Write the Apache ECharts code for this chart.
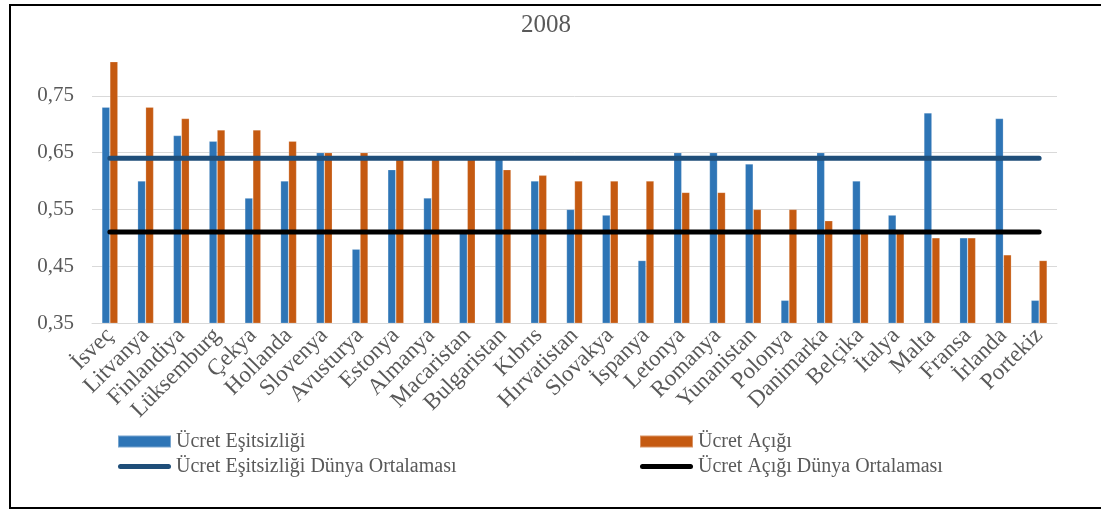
<!DOCTYPE html>
<html>
<head>
<meta charset="utf-8">
<script src="https://cdn.jsdelivr.net/npm/echarts@6/dist/echarts.min.js"></script>
<style>
html,body{margin:0;padding:0;background:#fff;}
#chart{width:1101px;height:510px;}
</style>
</head>
<body>
<div id="chart"></div>
<script>
const titleText = '2008';
const categories = ['İsveç','Litvanya','Finlandiya','Lüksemburg','Çekya','Hollanda','Slovenya','Avusturya','Estonya','Almanya','Macaristan','Bulgaristan','Kıbrıs','Hırvatistan','Slovakya','İspanya','Letonya','Romanya','Yunanistan','Polonya','Danimarka','Belçika','İtalya','Malta','Fransa','İrlanda','Portekiz'];
const seriesNames = ['Ücret Eşitsizliği','Ücret Açığı','Ücret Eşitsizliği Dünya Ortalaması','Ücret Açığı Dünya Ortalaması'];
const payInequality = [0.73,0.60,0.68,0.67,0.57,0.60,0.65,0.48,0.62,0.57,0.51,0.64,0.60,0.55,0.54,0.46,0.65,0.65,0.63,0.39,0.65,0.60,0.54,0.72,0.50,0.71,0.39];
const payGap = [0.81,0.73,0.71,0.69,0.69,0.67,0.65,0.65,0.64,0.64,0.64,0.62,0.61,0.60,0.60,0.60,0.58,0.58,0.55,0.55,0.53,0.51,0.51,0.50,0.50,0.47,0.46];
const worldAvgInequality = 0.64;
const worldAvgGap = 0.51;
const yTicks = {min:0.35, max:0.85, interval:0.1};

const font = "'Liberation Serif','Times New Roman',serif";
const lineIcon = 'path://M2.5,0H50.5A2.5,2.5,0,0,1,50.5,5H2.5A2.5,2.5,0,0,1,2.5,0Z';

const chart = echarts.init(document.getElementById('chart'));
chart.setOption({
  animation:false,
  backgroundColor:'#ffffff',
  title:{text:titleText,left:521,top:13,padding:0,textStyle:{fontFamily:font,fontSize:25,fontWeight:'normal',color:'#595959'}},
  grid:{left:92,right:44,top:39,bottom:187,containLabel:false},
  legend:[
    {left:117,top:431,padding:0,orient:'vertical',itemWidth:53,itemHeight:12,itemGap:4,
     textStyle:{fontFamily:font,fontSize:20,lineHeight:21,color:'#595959'},
     data:[{name:seriesNames[0],icon:'rect'},{name:seriesNames[2],icon:lineIcon}]},
    {left:639,top:431,padding:0,orient:'vertical',itemWidth:53,itemHeight:12,itemGap:4,
     textStyle:{fontFamily:font,fontSize:20,lineHeight:21,color:'#595959'},
     data:[{name:seriesNames[1],icon:'rect'},{name:seriesNames[3],icon:lineIcon}]}
  ],
  xAxis:{type:'category',data:categories,
    axisLine:{lineStyle:{color:'#d9d9d9',width:1}},axisTick:{show:false},
    axisLabel:{interval:0,rotate:45,margin:9,fontFamily:font,fontSize:23,color:'#595959'}},
  yAxis:{type:'value',min:yTicks.min,max:yTicks.max,interval:yTicks.interval,
    axisLine:{show:false},axisTick:{show:false},
    axisLabel:{showMaxLabel:false,margin:18,fontFamily:font,fontSize:21,color:'#595959',
      formatter:v=>v.toFixed(2).replace('.',',')},
    splitLine:{showMaxLine:false,lineStyle:{color:'#d9d9d9',width:1}}},
  series:[
    {name:seriesNames[0],type:'bar',data:payInequality,barWidth:8,barGap:'0%',
     itemStyle:{color:'#2e75b6',borderColor:'rgba(255,255,255,0.35)',borderWidth:0.6}},
    {name:seriesNames[1],type:'bar',data:payGap,barWidth:8,
     itemStyle:{color:'#c55a11',borderColor:'rgba(255,255,255,0.35)',borderWidth:0.6}},
    {name:seriesNames[2],type:'line',data:categories.map(()=>worldAvgInequality),symbol:'none',
     lineStyle:{color:'#1f4e79',width:5,cap:'round'},itemStyle:{color:'#1f4e79'},z:5},
    {name:seriesNames[3],type:'line',data:categories.map(()=>worldAvgGap),symbol:'none',
     lineStyle:{color:'#000000',width:5,cap:'round'},itemStyle:{color:'#000000'},z:5}
  ],
  graphic:[{type:'polyline',shape:{points:[[1101,5],[10,5],[10,508],[1101,508]]},
    style:{stroke:'#000',lineWidth:2,fill:null},silent:true}]
});
</script>
</body>
</html>
